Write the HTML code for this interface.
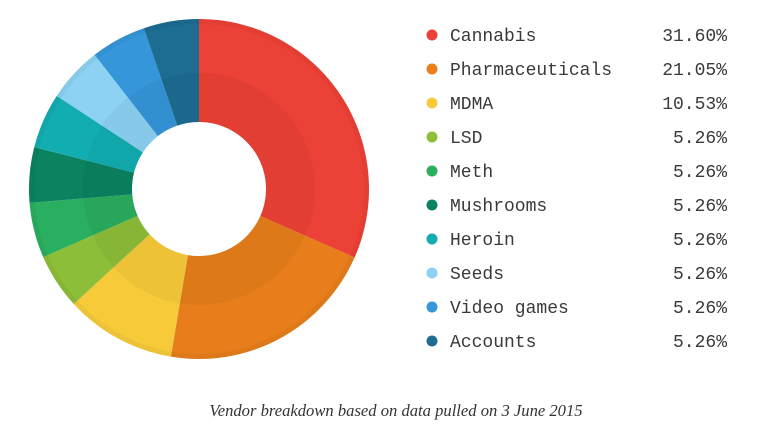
<!DOCTYPE html>
<html><head><meta charset="utf-8">
<style>
html,body{margin:0;padding:0;background:#fff;width:758px;height:433px;overflow:hidden}
svg{position:absolute;left:0;top:0}
.l{font-family:"Liberation Mono",monospace;font-size:18px;fill:#3a3a3a}
.c{font-family:"Liberation Serif",serif;font-style:italic;font-size:16.6px;fill:#333}
</style></head><body>
<svg id="s" width="758" height="433" xmlns="http://www.w3.org/2000/svg">
<g id="pie"></g>
<g id="leg"></g>
<text class="c" x="396" y="416" text-anchor="middle">Vendor breakdown based on data pulled on 3 June 2015</text>
</svg>
<script>
var data=[["Cannabis",31.60,"#ec4136"],["Pharmaceuticals",21.05,"#e77e1b"],["MDMA",10.53,"#f7ca3a"],["LSD",5.26,"#8dbe3a"],["Meth",5.26,"#2aae5f"],["Mushrooms",5.26,"#0b8360"],["Heroin",5.26,"#12adb0"],["Seeds",5.26,"#8dd2f2"],["Video games",5.26,"#3596da"],["Accounts",5.26,"#1d6d92"]];
var cx=199,cy=189,R=170,r=67,ns="http://www.w3.org/2000/svg";
function pt(a,rad){return [cx+rad*Math.sin(a),cy-rad*Math.cos(a)];}
function arc(a0,a1,ro,ri){var p1=pt(a0,ro),p2=pt(a1,ro),p3=pt(a1,ri),p4=pt(a0,ri),lg=(a1-a0)>Math.PI?1:0;
return "M"+p1+" A"+ro+","+ro+" 0 "+lg+" 1 "+p2+" L"+p3+" A"+ri+","+ri+" 0 "+lg+" 0 "+p4+"Z";}
var pie=document.getElementById("pie"),leg=document.getElementById("leg"),a=0;
data.forEach(function(d,i){var a1=a+d[1]/100*2*Math.PI;
var p=document.createElementNS(ns,"path");p.setAttribute("d",arc(a,a1,R,r));p.setAttribute("fill",d[2]);pie.appendChild(p);
var q=document.createElementNS(ns,"path");q.setAttribute("d",arc(a,a1,116,r));q.setAttribute("fill","rgba(0,0,0,0.04)");pie.appendChild(q);
var e=document.createElementNS(ns,"path");e.setAttribute("d",arc(a,a1,R,R-5));e.setAttribute("fill","rgba(0,0,0,0.04)");pie.appendChild(e);
a=a1;
var y=35+i*34;
var c=document.createElementNS(ns,"circle");c.setAttribute("cx",432);c.setAttribute("cy",y);c.setAttribute("r",5.5);c.setAttribute("fill",d[2]);leg.appendChild(c);
var t=document.createElementNS(ns,"text");t.setAttribute("class","l");t.setAttribute("x",450);t.setAttribute("y",y+6);t.textContent=d[0];leg.appendChild(t);
var v=document.createElementNS(ns,"text");v.setAttribute("class","l");v.setAttribute("x",727);v.setAttribute("y",y+6);v.setAttribute("text-anchor","end");v.textContent=d[1].toFixed(2)+"%";leg.appendChild(v);
});
</script>
</body></html>
